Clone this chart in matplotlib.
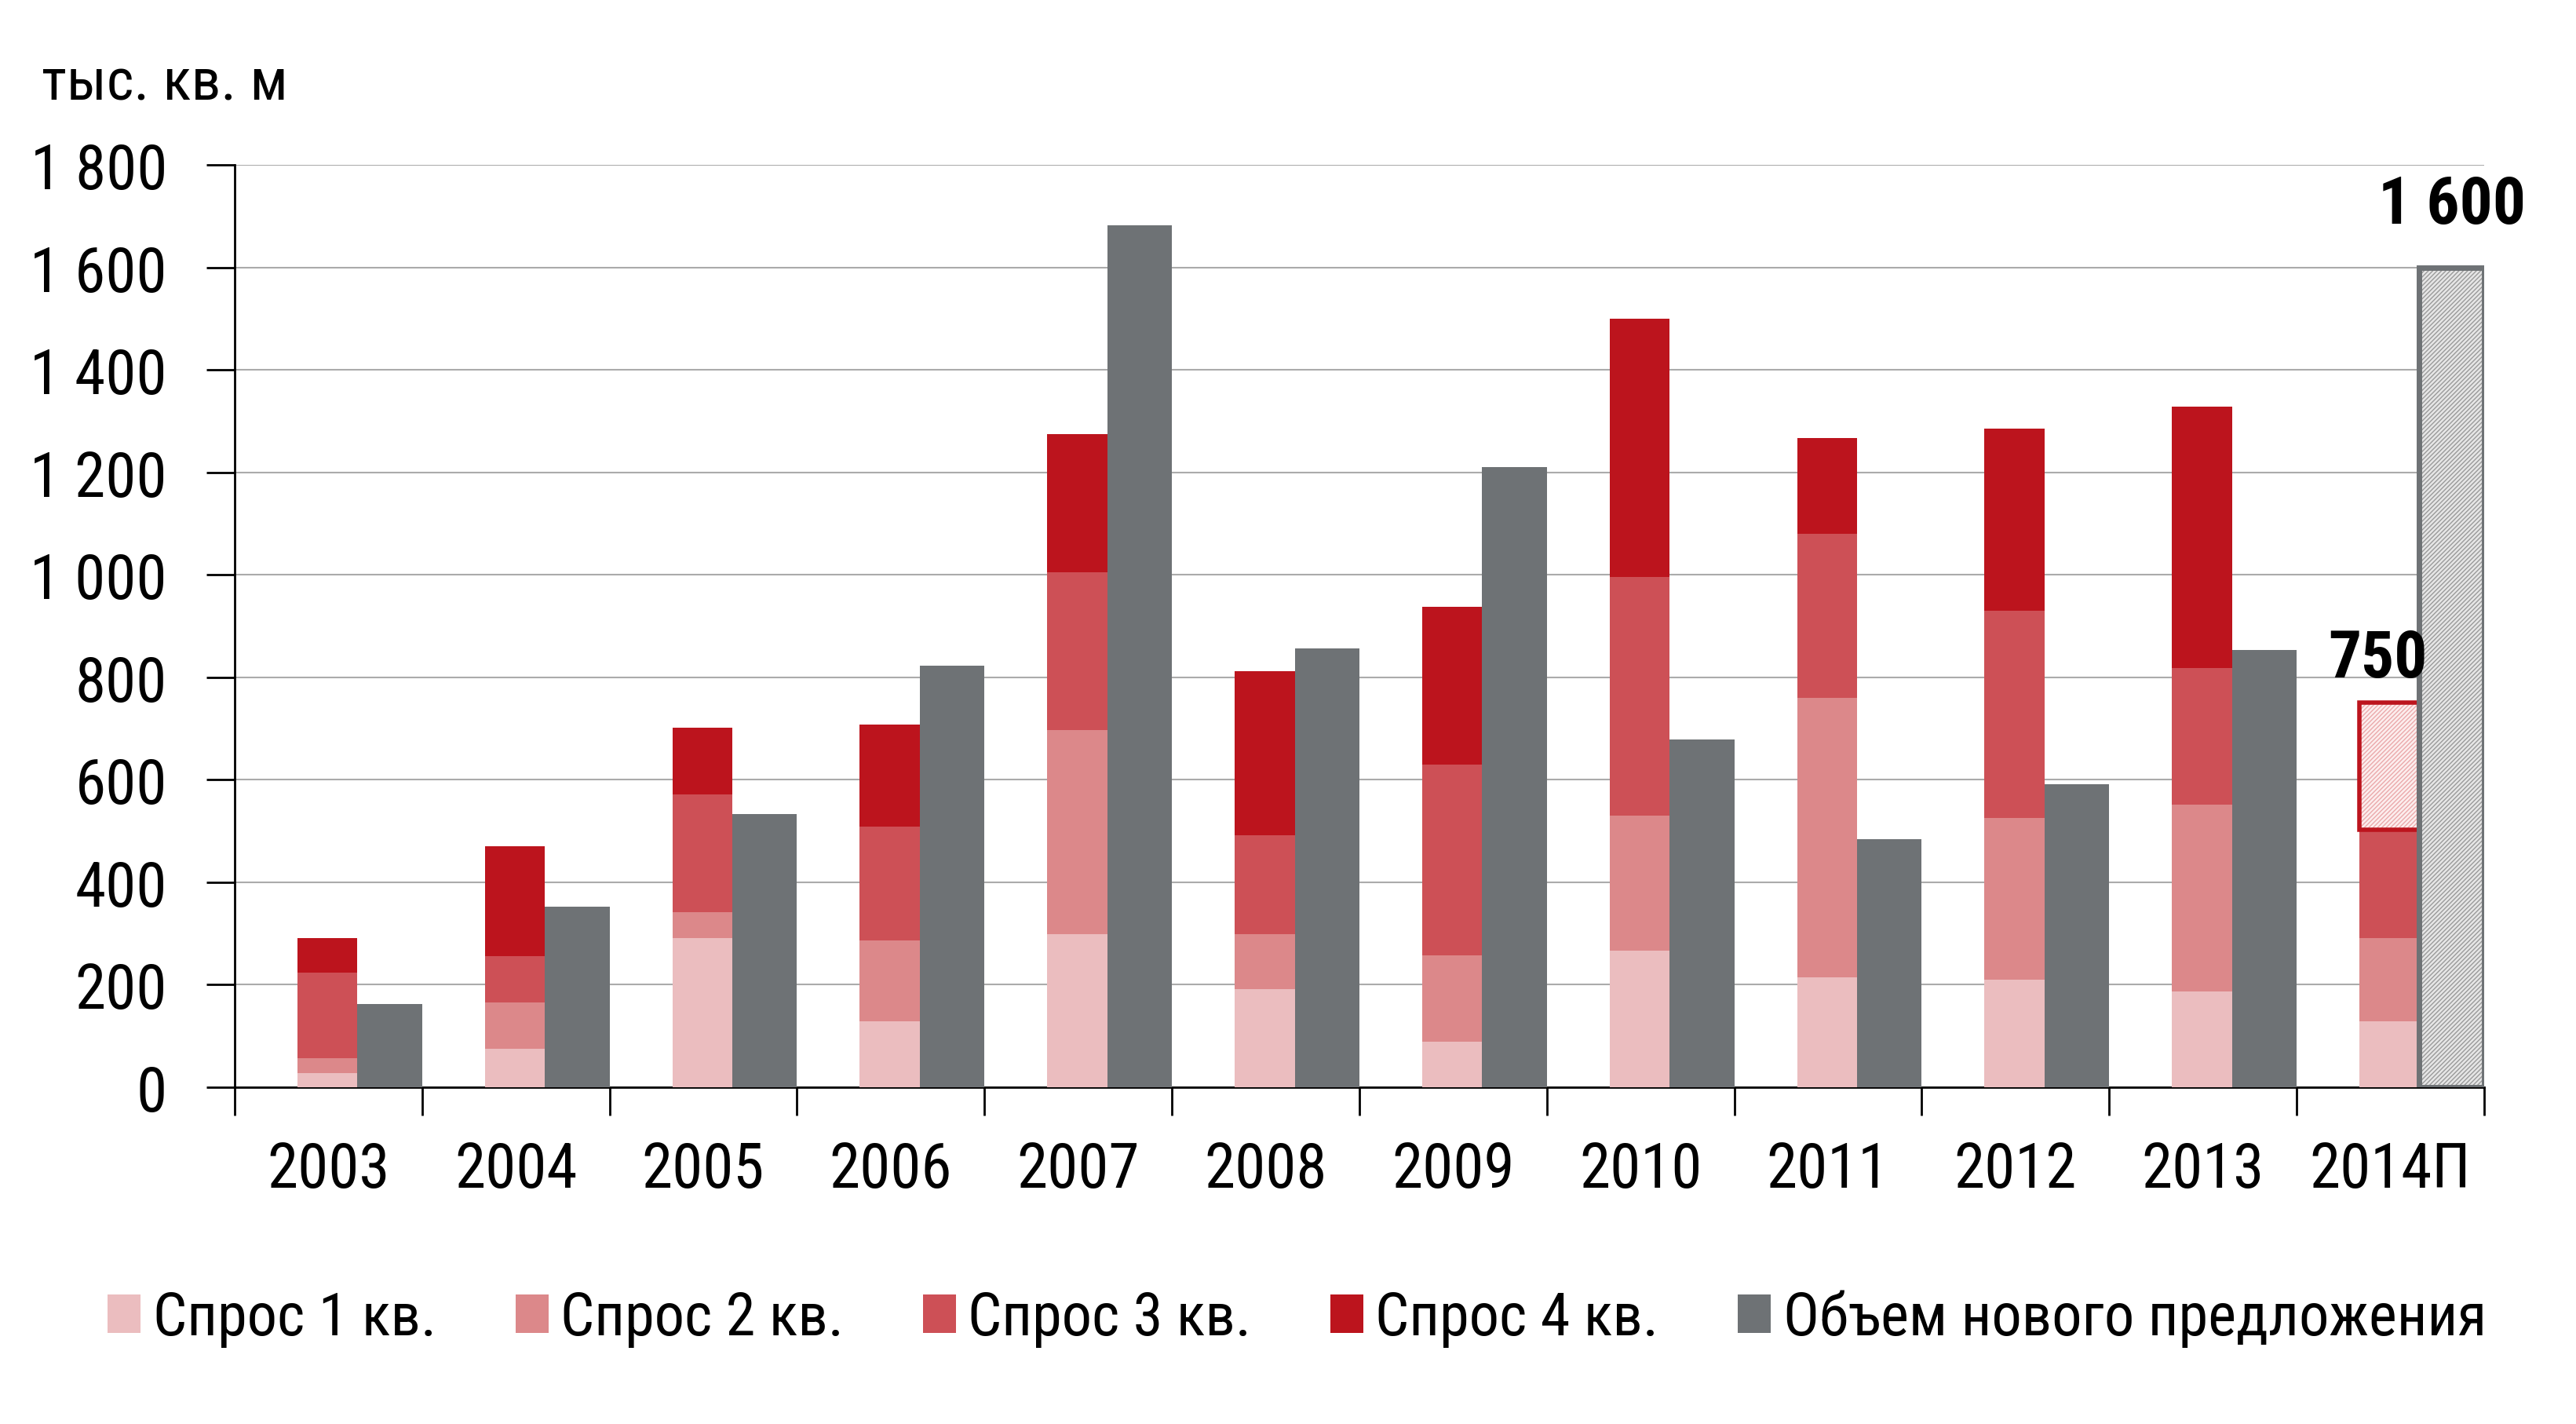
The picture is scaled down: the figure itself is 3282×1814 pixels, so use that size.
import numpy as np
import matplotlib
matplotlib.use("Agg")
import matplotlib.pyplot as plt
from matplotlib import font_manager as fm
from matplotlib.ticker import FuncFormatter, FixedLocator

# narrow sans face, closest available to Arial Narrow
names = {f.name for f in fm.fontManager.ttflist}
main_font = 'Liberation Sans'
for cand in ['Roboto Condensed', 'PT Sans Narrow', 'Liberation Sans Narrow', 'Arimo']:
    if cand in names:
        main_font = cand
        break
plt.rcParams['font.family'] = [main_font, 'DejaVu Sans']
plt.rcParams['hatch.linewidth'] = 1.0

# data, thousand sq. m
years = ['2003', '2004', '2005', '2006', '2007', '2008', '2009', '2010',
         '2011', '2012', '2013', '2014П']
q1 = [27, 75, 291, 128, 298, 191, 88, 267, 215, 210, 187, 128]
q2 = [30, 90, 50, 159, 399, 107, 170, 263, 545, 316, 364, 163]
q3 = [166, 91, 230, 221, 308, 193, 372, 466, 320, 404, 267, 211]
q4 = [68, 214, 130, 199, 270, 321, 307, 504, 187, 356, 510, 248]
supply = [162, 353, 533, 822, 1682, 856, 1211, 678, 484, 591, 853, 1600]
labels = ['Спрос 1 кв.', 'Спрос 2 кв.', 'Спрос 3 кв.', 'Спрос 4 кв.',
          'Объем нового предложения']
colors = ['#EBBDBF', '#DC888A', '#CD5056', '#BC141D', '#6E7275']

n = len(years)
x = np.arange(n)
fc = n - 1  # forecast year index

fig = plt.figure(figsize=(32.82, 18.15), dpi=100)
ax = fig.add_axes([0.0911, 0.2364, 0.8732, 0.6473])

red_left = x - 0.165
red_w = 0.32
gray_left = x + 0.155
gray_w = 0.345

# stacked demand
bottom = np.zeros(n)
for i, q in enumerate([q1, q2, q3]):
    ax.bar(red_left, q, red_w, bottom=bottom, align='edge', color=colors[i],
           linewidth=0, label=labels[i], zorder=3)
    bottom += np.array(q)

q4a = np.array(q4, dtype=float)
ax.bar(red_left[:fc], q4a[:fc], red_w, bottom=bottom[:fc], align='edge',
       color=colors[3], linewidth=0, label=labels[3], zorder=3)
# forecast Q4: hatched with red frame
ax.bar(red_left[fc], q4a[fc], red_w, bottom=bottom[fc], align='edge',
       facecolor='#FCEEEE', edgecolor='#EBA9AB', hatch='//////', linewidth=0, zorder=3)
ax.bar(red_left[fc], q4a[fc], red_w, bottom=bottom[fc], align='edge',
       fill=False, edgecolor=colors[3], linewidth=4, zorder=4)
total_fc = bottom[fc] + q4a[fc]

# supply
sup = np.array(supply, dtype=float)
ax.bar(gray_left[:fc], sup[:fc], gray_w, align='edge', color=colors[4],
       linewidth=0, label=labels[4], zorder=3)
ax.bar(gray_left[fc], sup[fc], gray_w, align='edge', facecolor='#E6E6E6',
       edgecolor='#9A9A9A', hatch='//////', linewidth=0, zorder=3)
ax.bar(gray_left[fc], sup[fc], gray_w, align='edge', fill=False,
       edgecolor=colors[4], linewidth=5, zorder=4)

ax.text(red_left[fc] + red_w / 2 - 0.06, total_fc + 25, f'{int(total_fc)}',
        ha='center', va='bottom', fontsize=60, fontweight='bold', zorder=5)
ax.text(gray_left[fc] + gray_w / 2 + 0.0, sup[fc] + 60,
        f'{int(sup[fc]):,}'.replace(',', ' '),
        ha='center', va='bottom', fontsize=60, fontweight='bold', zorder=5)

ax.set_xlim(-0.5, n - 0.5)
ax.set_ylim(0, 1800)
ax.set_yticks(np.arange(0, 1801, 200))
ax.yaxis.set_major_formatter(FuncFormatter(lambda v, p: f'{int(v):,}'.replace(',', ' ')))
ax.grid(axis='y', color='#ABABAB', linewidth=1.5, zorder=0)

ax.xaxis.set_major_locator(FixedLocator(np.arange(-0.5, n, 1.0)))
ax.xaxis.set_minor_locator(FixedLocator(x))
ax.set_xticklabels([], minor=False)
ax.set_xticklabels(years, minor=True)
ax.tick_params(axis='x', which='major', length=26, width=2, direction='out')
ax.tick_params(axis='x', which='minor', length=0, pad=48, labelsize=57)
ax.tick_params(axis='y', length=26, width=2, direction='out', pad=36, labelsize=57)

for s in ['top', 'right']:
    ax.spines[s].set_visible(False)
for s in ['left', 'bottom']:
    ax.spines[s].set_linewidth(2)
    ax.spines[s].set_color('black')

fig.text(0.016, 0.941, 'тыс. кв. м', fontsize=54, ha='left', va='center')

handles, lbls = ax.get_legend_handles_labels()
fig.legend(handles, lbls, loc='center', bbox_to_anchor=(0.5035, 0.074), ncol=5,
           frameon=False, fontsize=55, handlelength=0.55, handleheight=0.6,
           handletextpad=0.2, columnspacing=1.32)

fig.savefig('out.png', dpi=100)
